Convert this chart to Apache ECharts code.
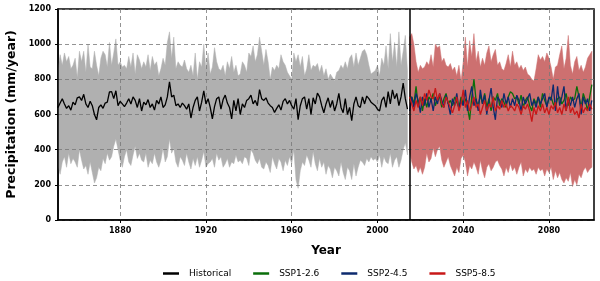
<!DOCTYPE html>
<html><head><meta charset="utf-8">
<script src="https://cdn.jsdelivr.net/npm/echarts@6/dist/echarts.min.js"></script>
<style>html,body{margin:0;padding:0;background:#fff}#c{width:600px;height:281px}</style>
</head><body><div id="c"></div>
<script>
// ---------- DATA ----------
const histStart = 1850;
const futStart = 2015;
const xTicks = [1880, 1920, 1960, 2000, 2040, 2080];
const yTicks = [0, 200, 400, 600, 800, 1000, 1200];

const historical = [
645,640,665,690,660,635,650,625,670,655,
695,700,680,715,660,640,675,650,600,570,
640,655,635,665,670,728,730,690,735,650,
675,660,645,665,690,660,700,680,640,690,
620,670,655,685,640,660,625,680,660,700,
640,655,700,786,700,710,650,660,640,665,
650,630,660,580,640,680,700,620,670,735,
660,690,640,575,645,690,700,630,685,710,
665,640,575,680,620,690,600,660,640,680,
690,710,660,680,650,742,690,680,695,665,
650,640,612,635,655,625,675,690,660,680,
650,630,690,570,650,690,700,630,690,600,
695,660,722,700,650,610,660,695,640,680,
620,660,720,640,610,690,600,640,565,660,
700,650,640,700,660,705,690,670,660,650,
630,620,680,700,640,730,660,740,690,720,
650,700,778,690,630];

const histUpper = [
780,860,940,880,950,900,930,860,880,920,
810,960,900,960,840,1000,870,860,960,880,
820,920,960,940,870,1010,880,950,1030,880,
900,870,880,860,930,870,950,830,940,910,
860,900,870,940,850,930,880,900,820,860,
920,880,1010,1070,920,1040,860,900,880,870,
910,860,840,880,820,950,800,900,870,1000,
860,950,830,870,980,900,860,850,880,820,
900,860,930,840,880,820,830,900,880,840,
950,930,990,900,940,1040,960,880,970,900,
800,870,850,880,860,940,900,880,840,820,
800,950,900,940,870,930,820,860,940,850,
880,870,890,840,880,820,860,800,830,810,
790,840,850,880,860,900,860,920,940,870,
950,880,920,960,970,940,880,830,840,850,
880,820,920,880,990,860,1060,900,1010,870,
1070,880,960,1050,850];

const histLower = [
450,300,260,330,360,300,380,320,350,330,
300,400,340,290,310,260,330,270,210,240,
300,280,350,320,380,340,360,420,460,400,
340,300,360,400,330,310,370,420,350,380,
340,330,380,300,340,320,380,330,300,340,
410,330,360,460,380,410,330,300,360,340,
310,380,330,290,350,310,360,300,340,390,
300,320,330,350,300,380,340,360,300,320,
350,300,330,320,370,330,340,320,360,350,
310,400,380,340,320,350,300,290,330,310,
270,360,320,290,350,330,280,340,310,360,
320,400,230,180,280,330,310,370,340,300,
390,320,280,350,300,330,260,310,290,240,
300,280,250,330,270,230,300,280,230,320,
250,300,340,330,310,350,330,360,340,350,
330,370,300,360,330,320,380,300,340,360,
300,340,400,440,370];

const futUpper = [
1040,1060,1000,900,840,880,860,870,900,880,
940,870,1000,980,990,900,920,880,870,890,
850,870,820,880,790,900,1040,870,1020,930,
1060,900,960,870,920,880,950,990,900,940,
970,880,900,860,850,890,940,870,960,880,
900,860,880,850,870,830,820,800,790,860,
940,910,930,900,950,920,870,800,870,880,
940,990,860,920,1050,880,830,900,930,850,
880,840,870,920,940,960];

const futLower = [
390,330,290,310,270,300,260,300,380,330,
350,410,360,400,420,340,300,330,360,310,
280,250,300,270,350,370,330,250,310,290,
330,300,260,340,280,240,300,320,280,300,
330,340,310,290,250,300,270,320,280,300,
260,300,330,250,290,270,300,280,290,260,
300,280,290,250,290,270,300,230,280,240,
270,230,210,240,220,270,190,230,200,260,
240,280,300,270,290,300];

const ssp126 = [
680,700,660,760,650,700,620,690,640,700,
680,720,650,690,700,640,690,720,660,680,
650,700,670,640,700,660,690,640,570,700,
800,680,650,710,660,720,640,690,620,700,
680,720,650,690,670,640,700,730,720,690,
700,660,710,640,680,700,650,620,690,660,
700,640,720,680,650,690,700,660,640,690,
700,660,680,720,650,700,680,690,760,700,
640,720,680,620,700,770];

const ssp245 = [
620,700,640,720,680,610,700,650,720,640,
690,620,700,660,720,680,640,710,660,600,
690,650,720,630,680,650,740,620,700,760,
650,690,620,740,660,710,600,680,750,640,
570,700,680,640,720,660,700,640,690,650,
710,680,620,700,660,690,720,650,680,640,
700,660,690,720,640,700,680,770,620,760,
650,700,760,620,690,650,700,640,690,720,
600,700,660,690,620,680];

const ssp585 = [
700,660,620,680,640,700,650,720,680,740,
700,690,750,680,720,660,640,700,670,640,
610,650,700,620,660,740,640,680,620,650,
700,640,660,600,640,680,620,660,640,700,
620,650,630,680,640,660,620,650,640,620,
660,640,600,650,630,660,620,560,640,600,
650,620,660,610,640,600,650,630,670,610,
640,600,660,620,700,610,640,600,620,580,
660,610,640,620,660,630];

const legendNames = ['Historical', 'SSP1-2.6', 'SSP2-4.5', 'SSP5-8.5'];

// ---------- BUILD ----------
function pairs(start, arr) { return arr.map((v, i) => [start + i, v]); }
function bandData(start, up, lo) { return up.map((v, i) => [start + i, lo[i], v]); }

const FONT = 'DejaVu Sans';

// band drawn as a polygon through the axis scales (api.coord)
function bandSeries(name, data, color) {
  return {
    name: name, type: 'custom', silent: true, z: 1,
    data: data,
    encode: { x: 0, y: [1, 2] },
    renderItem: function (params, api) {
      if (params.dataIndex !== 0) return null;
      const top = [], bot = [];
      for (let i = 0; i < data.length; i++) {
        top.push(api.coord([data[i][0], data[i][2]]));
        bot.push(api.coord([data[i][0], data[i][1]]));
      }
      const pts = top.concat(bot.reverse());
      return {
        type: 'polygon',
        shape: { points: pts },
        style: { fill: color, stroke: color, lineWidth: 0.5 },
        clipPath: { type: 'rect', shape: { x: params.coordSys.x, y: params.coordSys.y, width: params.coordSys.width, height: params.coordSys.height } }
      };
    }
  };
}

const option = {
  animation: false,
  backgroundColor: '#fff',
  textStyle: { fontFamily: FONT },
  grid: { left: 58, right: 6, top: 9, bottom: 61, show: true, borderColor: '#000', borderWidth: 1.5,
          containLabel: false, outerBoundsMode: 'none' },
  legend: {
    data: legendNames,
    left: 158, top: 264,
    icon: 'rect', itemWidth: 16, itemHeight: 2.5, itemGap: 22,
    textStyle: { fontFamily: FONT, fontSize: 9, color: '#000', padding: [0, 0, 0, 5] }
  },
  xAxis: {
    type: 'value', min: 1851, max: 2101, z: 2,
    name: 'Year', nameLocation: 'middle', nameGap: 25,
    nameTextStyle: { fontFamily: FONT, fontWeight: 'bold', fontSize: 12, color: '#000' },
    axisLine: { show: true, lineStyle: { color: '#000', width: 1.5 } },
    axisTick: { show: true, length: 3, lineStyle: { color: '#000' }, customValues: xTicks },
    axisLabel: { customValues: xTicks, formatter: v => String(v), fontFamily: FONT, fontWeight: 'bold', fontSize: 8, color: '#000', margin: 7 },
    splitLine: { show: true, lineStyle: { color: '#777', width: 0.8, type: [4, 3] } }
  },
  yAxis: {
    type: 'value', min: 0, max: 1200, z: 2,
    name: 'Precipitation (mm/year)', nameLocation: 'middle', nameGap: 39,
    nameTextStyle: { fontFamily: FONT, fontWeight: 'bold', fontSize: 12.5, color: '#000' },
    axisLine: { show: true, lineStyle: { color: '#000', width: 1.5 } },
    axisTick: { show: true, length: 3, lineStyle: { color: '#000' }, customValues: yTicks },
    axisLabel: { customValues: yTicks, formatter: v => String(v), fontFamily: FONT, fontWeight: 'bold', fontSize: 8, color: '#000', margin: 7 },
    splitLine: { show: true, lineStyle: { color: '#777', width: 0.8, type: [4, 3] } }
  },
  series: [
    bandSeries('histBand', bandData(histStart, histUpper, histLower), '#b0b0b0'),
    bandSeries('futBand', bandData(futStart, futUpper, futLower), '#cd7070'),
    { name: 'Historical', type: 'line', symbol: 'none', z: 3, data: pairs(histStart, historical),
      color: '#000', lineStyle: { color: '#000', width: 1.3 },
      markLine: { silent: true, symbol: 'none', label: { show: false },
        lineStyle: { color: '#000', width: 1.5, type: 'solid' }, data: [{ xAxis: futStart }] } },
    { name: 'SSP1-2.6', type: 'line', symbol: 'none', z: 3, data: pairs(futStart, ssp126),
      color: '#0a6e0a', lineStyle: { color: '#0a6e0a', width: 1.3 } },
    { name: 'SSP2-4.5', type: 'line', symbol: 'none', z: 4, data: pairs(futStart, ssp245),
      color: '#0d2a6e', lineStyle: { color: '#0d2a6e', width: 1.3 } },
    { name: 'SSP5-8.5', type: 'line', symbol: 'none', z: 5, data: pairs(futStart, ssp585),
      color: '#c81818', lineStyle: { color: '#c81818', width: 1.3 } }
  ]
};

const chart = echarts.init(document.getElementById('c'), null, { renderer: 'canvas', width: 600, height: 281 });
chart.setOption(option);
</script>
</body></html>
